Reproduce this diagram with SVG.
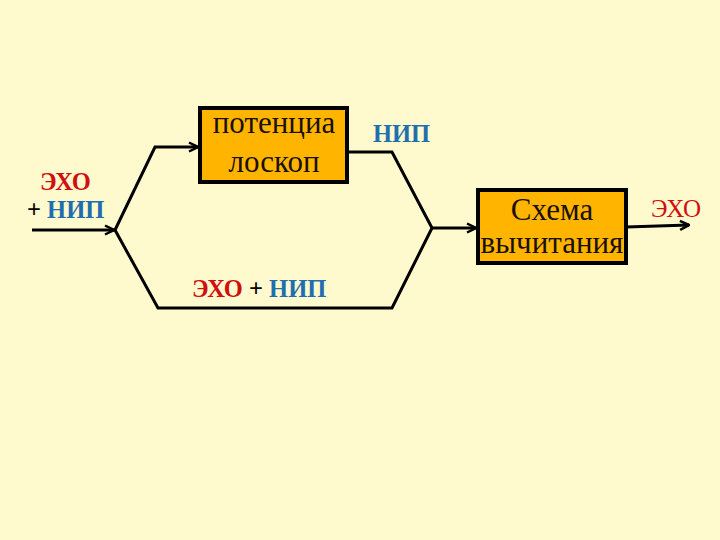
<svg xmlns="http://www.w3.org/2000/svg" width="720" height="540" viewBox="0 0 720 540">
<defs>
<marker id="arr" viewBox="0 0 12 12" refX="11" refY="6" markerWidth="12" markerHeight="12" orient="auto" markerUnits="userSpaceOnUse">
<path d="M2,1.5 L11,6 L2,10.5" fill="none" stroke="#000" stroke-width="2.5"/>
</marker>
<style>
.box{fill:#FFB400;stroke:#000;stroke-width:4}
.line{fill:none;stroke:#000;stroke-width:3;stroke-linejoin:miter}
.t{font-family:"Liberation Serif","Times New Roman",serif;font-size:31px;fill:#1a1000;text-anchor:middle}
.r{font-family:"Liberation Serif","Times New Roman",serif;font-size:24.5px;font-weight:bold;fill:#D01010}
.b{font-family:"Liberation Serif","Times New Roman",serif;font-size:24.5px;font-weight:bold;fill:#1F6FB0}
.k{font-family:"Liberation Serif","Times New Roman",serif;font-size:24.5px;font-weight:bold;fill:#000}
</style>
</defs>
<rect width="720" height="540" fill="#FFFACD"/>
<g id="connectors">
<path class="line" d="M32,230 L114,230" marker-end="url(#arr)"/>
<path class="line" d="M115,230 L155,147 L198,147" marker-end="url(#arr)"/>
<path class="line" d="M115,230 L158,308 L392,308 L432,228"/>
<path class="line" d="M347,152 L392,152 L432,228"/>
<path class="line" d="M432,228 L476,228" marker-end="url(#arr)"/>
<path class="line" d="M626,227 L689,225" marker-end="url(#arr)"/>
</g>
<g id="potentsioskop">
<rect class="box" x="200" y="108" width="147" height="74"/>
<text class="t" x="274" y="133">потенциа</text>
<text class="t" x="274" y="172">лоскоп</text>
</g>
<g id="skhema">
<rect class="box" x="478" y="190" width="148" height="73"/>
<text class="t" x="552" y="220">Схема</text>
<text class="t" x="552" y="253">вычитания</text>
</g>
<g id="labels">
<text class="r" x="40" y="190">ЭХО</text>
<text x="27" y="218"><tspan class="k">+ </tspan><tspan class="b">НИП</tspan></text>
<text x="192" y="297"><tspan class="r">ЭХО</tspan><tspan class="k"> + </tspan><tspan class="b">НИП</tspan></text>
<text class="b" x="373" y="142" font-size="26">НИП</text>
<text x="651" y="217" font-family="Liberation Serif, serif" font-size="25" fill="#D01010">ЭХО</text>
</g>
</svg>
